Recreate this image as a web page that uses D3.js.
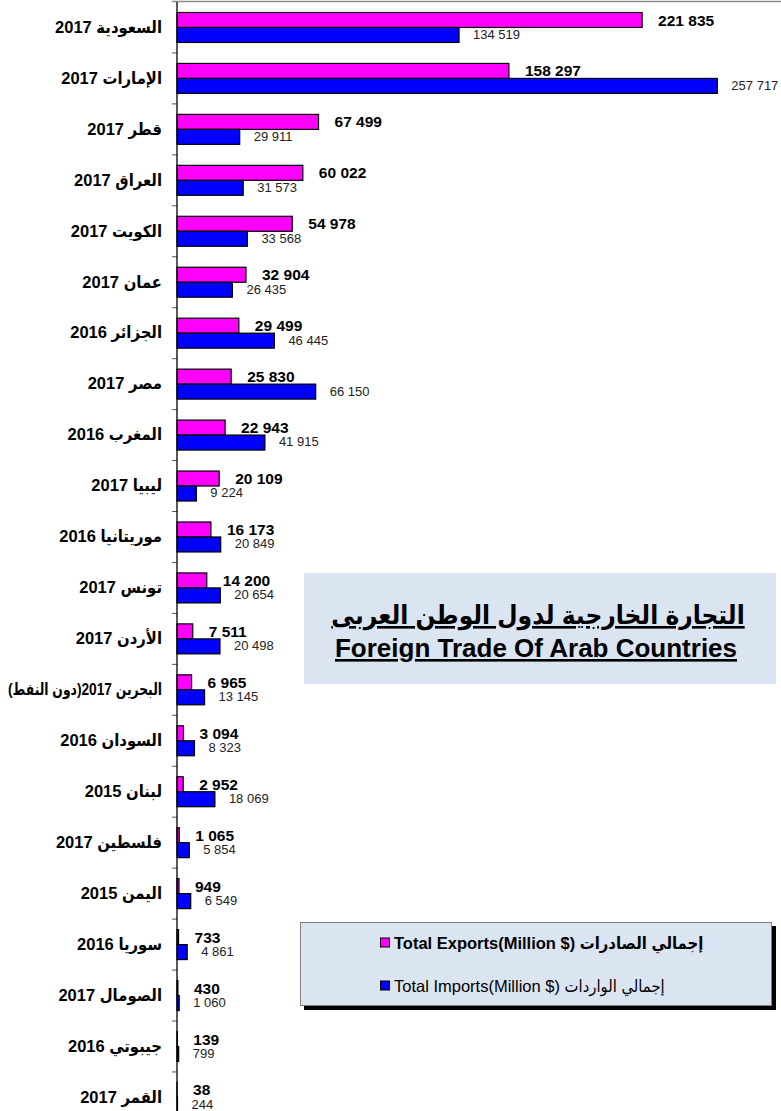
<!DOCTYPE html>
<html>
<head>
<meta charset="utf-8">
<script src="https://cdn.jsdelivr.net/npm/d3@7"></script>
<style>
    body { margin: 0; background: #fff; }
    text { font-family: Arial, "Liberation Sans", "DejaVu Sans Condensed", "DejaVu Sans", sans-serif; }
</style>
</head>
<body>
<svg id="vis"></svg>
<script>
const WIDTH = 781;
const HEIGHT = 1111;
const AXIS_X = 177;
const TOP = 2;
const BAND = 50.95;
const MAX_LABEL = 154;

const countries = [
    "السعودية 2017", "الإمارات 2017", "قطر 2017", "العراق 2017", "الكويت 2017",
    "عمان 2017", "الجزائر 2016", "مصر 2017", "المغرب 2016", "ليبيا 2017",
    "موريتانيا 2016", "تونس 2017", "الأردن 2017", "البحرين 2017(دون النفط)",
    "السودان 2016", "لبنان 2015", "فلسطين 2017", "اليمن 2015", "سوريا 2016",
    "الصومال 2017", "جيبوتي 2016", "القمر 2017"
];
const exportsValues = [
    221835, 158297, 67499, 60022, 54978, 32904, 29499, 25830, 22943, 20109, 16173,
    14200, 7511, 6965, 3094, 2952, 1065, 949, 733, 430, 139, 38
];
const importsValues = [
    134519, 257717, 29911, 31573, 33568, 26435, 46445, 66150, 41915, 9224, 20849,
    20654, 20498, 13145, 8323, 18069, 5854, 6549, 4861, 1060, 799, 244
];
const seriesKeys = ["exports", "imports"];
const seriesColors = ["#ff00ff", "#0000ff"];
const legendLabels = ["Total Exports(Million $) إجمالي الصادرات", "Total Imports(Million $) إجمالي الواردات"];
const titleLines = ["التجارة الخارجية لدول الوطن العربى", "Foreign Trade Of Arab Countries"];

const fmt = d3.formatLocale({decimal: ".", thousands: " ", grouping: [3], currency: ["", ""]}).format(",d");

const svg = d3.select("#vis")
    .attr("width", WIDTH)
    .attr("height", HEIGHT);

const x = d3.scaleLinear().domain([0, 300000]).range([AXIS_X, 806]);
const y = d3.scaleBand()
    .domain(countries)
    .range([TOP, TOP + countries.length * BAND]);
const ySub = d3.scaleBand()
    .domain(seriesKeys)
    .range([0, y.bandwidth()])
    .paddingOuter(0.7);

const rows = countries.map((c, i) => ({country: c, exports: exportsValues[i], imports: importsValues[i]}));

// top border of the plot area
svg.append("line")
    .attr("x1", AXIS_X - 5).attr("x2", WIDTH)
    .attr("y1", TOP - 0.5).attr("y2", TOP - 0.5)
    .attr("stroke", "#8c8c8c").attr("stroke-width", 1.5);

// bars
const groups = svg.selectAll(".group").data(rows).join("g")
    .attr("class", "group")
    .attr("transform", d => "translate(0," + y(d.country) + ")");

seriesKeys.forEach((key, k) => {
    groups.append("rect")
        .attr("x", x(0))
        .attr("y", ySub(key))
        .attr("width", d => x(d[key]) - x(0))
        .attr("height", ySub.bandwidth())
        .attr("fill", seriesColors[k])
        .attr("stroke", "#000")
        .attr("stroke-width", 1.2);
});

// value labels
groups.append("text")
    .attr("x", d => x(d.exports) + 16)
    .attr("y", ySub("exports") + ySub.bandwidth() / 2)
    .attr("dy", "0.36em")
    .attr("font-size", 15.5)
    .attr("font-weight", "bold")
    .attr("fill", "#000")
    .text(d => fmt(d.exports));

groups.append("text")
    .attr("x", d => x(d.imports) + 14)
    .attr("y", ySub("imports") + ySub.bandwidth() / 2)
    .attr("dy", "0.3em")
    .attr("font-size", 13)
    .attr("fill", "#222")
    .text(d => fmt(d.imports));

// category axis: labels at band centres, ticks at band edges
const axis = svg.append("g")
    .attr("transform", "translate(" + AXIS_X + ",0)")
    .call(d3.axisLeft(y).tickSize(0).tickPadding(15).tickFormat(d => d + "\u200F"));
axis.select(".domain").remove();
axis.selectAll("text")
    .attr("font-size", 16.5)
    .attr("font-weight", "bold")
    .attr("fill", "#000")
    .each(function() {
        // squeeze the long label (Bahrain) so it fits left of the axis
        if (this.getComputedTextLength() > MAX_LABEL) {
            d3.select(this).attr("textLength", MAX_LABEL).attr("lengthAdjust", "spacingAndGlyphs");
        }
    });

svg.selectAll(".edgeTick").data(countries.slice(1)).join("line")
    .attr("class", "edgeTick")
    .attr("x1", AXIS_X - 5).attr("x2", AXIS_X)
    .attr("y1", d => y(d)).attr("y2", d => y(d))
    .attr("stroke", "#555");

svg.append("line")
    .attr("x1", AXIS_X).attr("x2", AXIS_X)
    .attr("y1", TOP).attr("y2", HEIGHT)
    .attr("stroke", "#000").attr("stroke-width", 1.3);

// title box
svg.append("rect")
    .attr("x", 304).attr("y", 573)
    .attr("width", 472).attr("height", 111)
    .attr("fill", "#dbe5f1");

svg.append("text")
    .attr("x", 538).attr("y", 624)
    .attr("text-anchor", "middle")
    .attr("font-size", 26)
    .attr("font-weight", "bold")
    .attr("text-decoration", "underline")
    .text(titleLines[0]);

svg.append("text")
    .attr("x", 536).attr("y", 657)
    .attr("text-anchor", "middle")
    .attr("font-size", 26)
    .attr("font-weight", "bold")
    .attr("text-decoration", "underline")
    .text(titleLines[1]);

// legend box with shadow
svg.append("rect")
    .attr("x", 304).attr("y", 926)
    .attr("width", 472).attr("height", 84)
    .attr("fill", "#000");
svg.append("rect")
    .attr("x", 300.5).attr("y", 922.5)
    .attr("width", 471).attr("height", 83)
    .attr("fill", "#dbe5f1")
    .attr("stroke", "#808080");

const legend = svg.selectAll(".legendItem").data(seriesKeys).join("g")
    .attr("class", "legendItem")
    .attr("transform", (d, i) => "translate(380," + (943 + i * 43) + ")");
legend.append("rect")
    .attr("x", 0.5).attr("y", -5)
    .attr("width", 9).attr("height", 9)
    .attr("fill", (d, i) => seriesColors[i])
    .attr("stroke", "#000");
legend.append("text")
    .attr("x", 14)
    .attr("dy", "0.35em")
    .attr("font-size", 16.5)
    .attr("font-weight", (d, i) => i === 0 ? "bold" : "normal")
    .text((d, i) => legendLabels[i]);
</script>
</body>
</html>
